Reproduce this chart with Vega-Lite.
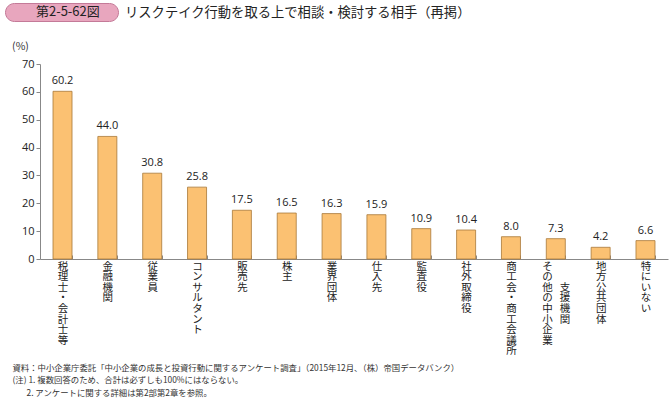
{
  "$schema": "https://vega.github.io/schema/vega-lite/v6.json",
  "width": 628,
  "height": 195,
  "autosize": {"type": "none"},
  "padding": {"left": 40, "top": 64, "right": 1, "bottom": 139},
  "background": "white",
  "config": {
    "font": "Noto Sans CJK JP",
    "view": {"stroke": null}
  },
  "title": {
    "text": "リスクテイク行動を取る上で相談・検討する相手（再掲）",
    "anchor": "start",
    "frame": "group",
    "dx": 85,
    "offset": -17,
    "fontSize": 13.3,
    "fontWeight": "normal",
    "color": "#222222"
  },
  "data": {
    "values": [
      {"cat": "税理士・会計士等", "v": 60.2},
      {"cat": "金融機関", "v": 44.0},
      {"cat": "従業員", "v": 30.8},
      {"cat": "コンサルタント", "v": 25.8},
      {"cat": "販売先", "v": 17.5},
      {"cat": "株主", "v": 16.5},
      {"cat": "業界団体", "v": 16.3},
      {"cat": "仕入先", "v": 15.9},
      {"cat": "監査役", "v": 10.9},
      {"cat": "社外取締役", "v": 10.4},
      {"cat": "商工会・商工会議所", "v": 8.0},
      {"cat": "その他の中小企業支援機関", "v": 7.3},
      {"cat": "地方公共団体", "v": 4.2},
      {"cat": "特にいない", "v": 6.6}
    ]
  },
  "encoding": {
    "x": {
      "field": "cat",
      "type": "nominal",
      "sort": null,
      "scale": {"paddingInner": 0.576, "paddingOuter": 0.29},
      "axis": {
        "title": ["資料：中小企業庁委託「中小企業の成長と投資行動に関するアンケート調査」（2015年12月、（株）帝国データバンク）", "(注) 1. 複数回答のため、合計は必ずしも100%にはならない。", "\u200b\u3000\u00a0\u00a0\u00a02. アンケートに関する詳細は第2部第2章を参照。"],
        "titleFontSize": 8.4,
        "titleFontWeight": "normal",
        "titleColor": "#333333",
        "titleAnchor": "start",
        "titleAlign": "left",
        "titleBaseline": "top",
        "titleLineHeight": 12.5,
        "titleX": -28,
        "titleY": 104,
        "labelAngle": 0,
        "labelAlign": "left",
        "labelBaseline": "top",
        "labelFontSize": 10.5,
        "labelLineHeight": 10.6,
        "labelColor": "#222222",
        "labelPadding": 6,
        "labelOffset": {"condition": {"test": "datum.value == 'その他の中小企業支援機関'", "value": -14}, "value": -5.25},
        "labelExpr": "datum.value == null ? '' : datum.value == 'その他の中小企業支援機関' ? ['そ','の','他\u00a0\u00a0\u00a0支','の\u00a0\u00a0\u00a0援','中\u00a0\u00a0\u00a0機','小\u00a0\u00a0\u00a0関','企','業'] : split(datum.value, '')",
        "labelLimit": 0,
        "tickBand": "extent",
        "tickSize": -4,
        "tickColor": "#888888",
        "domainColor": "#888888"
      }
    },
    "y": {
      "field": "v",
      "type": "quantitative",
      "scale": {"domain": [0, 70]},
      "axis": {
        "title": "(%)",
        "titleAngle": 0,
        "titleAlign": "center",
        "titleBaseline": "middle",
        "titleX": -20,
        "titleY": -18,
        "titleFontSize": 10.5,
        "titleFontWeight": "normal",
        "titleColor": "#333333",
        "values": [0, 10, 20, 30, 40, 50, 60, 70],
        "grid": false,
        "tickSize": 4,
        "tickColor": "#888888",
        "domainColor": "#888888",
        "labelFontSize": 11,
        "labelColor": "#222222",
        "labelPadding": 2,
        "labelFont": "Open Sans"
      }
    }
  },
  "layer": [
    {
      "mark": {"type": "bar", "stroke": "#A87838", "strokeWidth": 0.8},
      "encoding": {
        "color": {
          "datum": "\u200b\u3000\u00a0第2-5-62図\u00a0\u3000\u200b",
          "scale": {"range": ["#FBC172"]},
          "legend": {
            "title": null,
            "orient": "none",
            "legendX": -35,
            "legendY": -61,
            "fillColor": "#E8A6BE",
            "strokeColor": "#C47A98",
            "cornerRadius": 9,
            "padding": 2,
            "symbolOpacity": 0,
            "symbolSize": 0,
            "symbolStrokeWidth": 0,
            "labelOffset": 0,
            "labelFontSize": 13,
            "labelColor": "#222222",
            "labelLimit": 0
          }
        }
      }
    },
    {
      "mark": {"type": "text", "baseline": "bottom", "dy": -5, "fontSize": 11, "color": "#222222", "font": "Open Sans"},
      "encoding": {
        "text": {"field": "v", "type": "quantitative", "format": ".1f"}
      }
    },
    {
      "data": {"values": [{"label": "(n＝2,091)"}]},
      "mark": {"type": "text", "align": "right", "baseline": "middle", "fontSize": 11, "fontWeight": "normal", "dx": 14, "color": "#222222"},
      "encoding": {
        "x": {"datum": "特にいない"},
        "y": {"datum": 67},
        "text": {"field": "label", "type": "nominal"}
      }
    }
  ]
}
